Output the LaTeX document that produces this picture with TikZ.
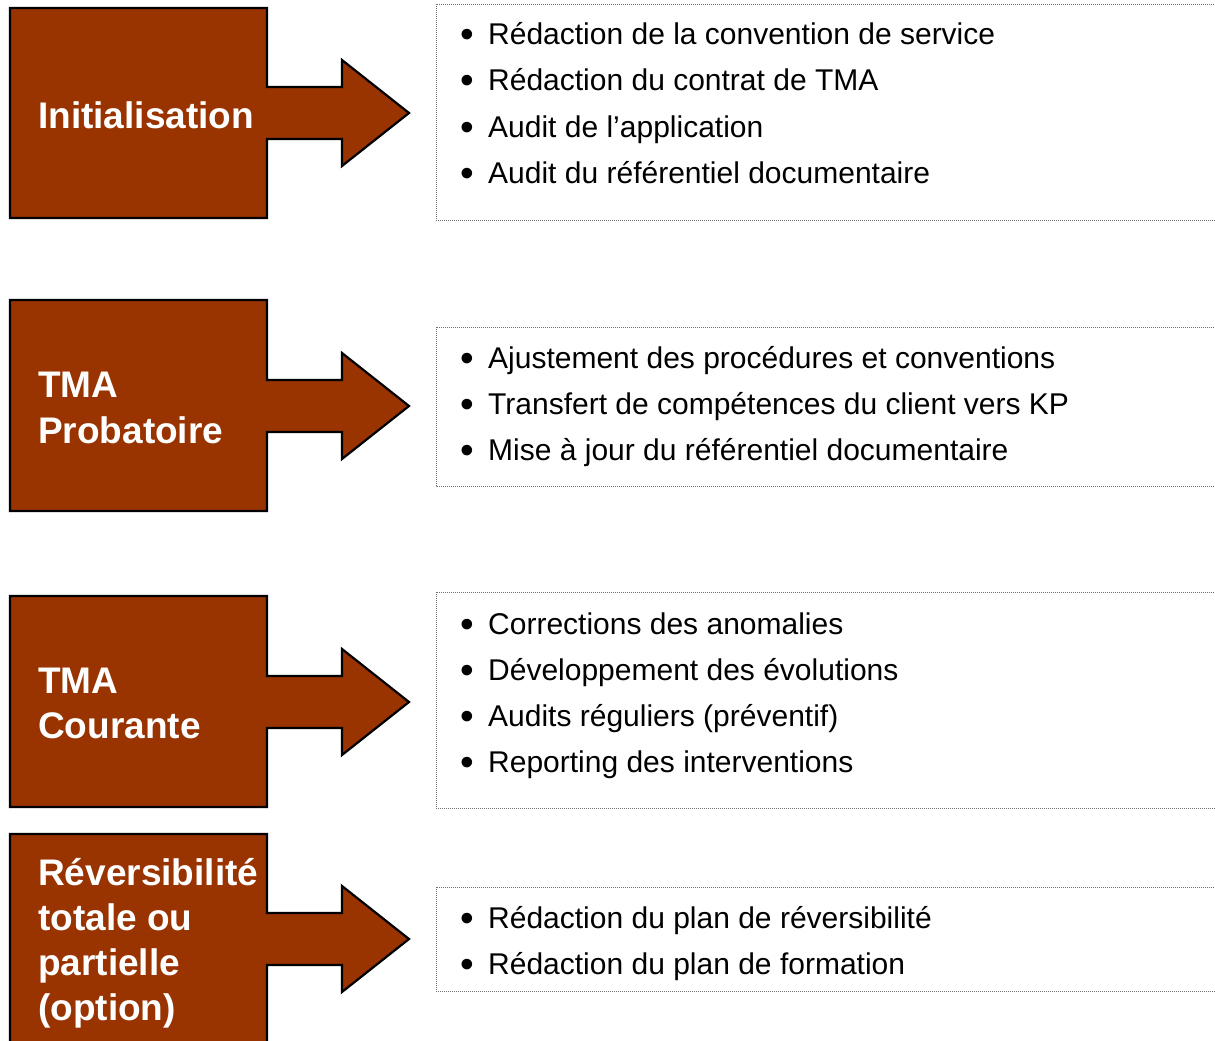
\documentclass[tikz,border=0pt]{standalone}
\usepackage{graphicx}
\usepackage{fontspec}
\setmainfont{Liberation Sans}
\definecolor{phasebrown}{HTML}{993300}
\definecolor{dotgray}{HTML}{707070}
\tikzset{
  phaseshape/.style={fill=phasebrown, draw=black, line width=2.2pt, line join=miter},
  listbox/.style={draw=dotgray, line width=0.8pt, dash pattern=on 1pt off 1pt},
  phasetitle/.style={anchor=base west, inner sep=0pt, text=white, font=\fontsize{37}{46}\selectfont\bfseries},
  bulletline/.style={anchor=base west, inner sep=0pt, text=black, font=\fontsize{30}{46}\selectfont},
}
\newcommand{\bul}[1]{\makebox[26.25pt][l]{\hspace{-1.5pt}\raisebox{-3pt}{\scalebox{1.3}{\textbullet}}}#1}
\begin{document}
\begin{tikzpicture}[x=1pt,y=-1pt]
\useasboundingbox (0,0) rectangle (1215,1041);
\clip (0,0) rectangle (1215,1041);
% phase shapes: box + arrow
\draw[phaseshape] (10,8) -- (267,8) -- (267,87) -- (342,87) -- (342,60) -- (409,113) -- (342,166) -- (342,139) -- (267,139) -- (267,218) -- (10,218) -- cycle;
\draw[phaseshape] (10,300) -- (267,300) -- (267,380) -- (342,380) -- (342,353) -- (409,406) -- (342,459) -- (342,432) -- (267,432) -- (267,511) -- (10,511) -- cycle;
\draw[phaseshape] (10,596) -- (267,596) -- (267,676) -- (342,676) -- (342,649) -- (409,702) -- (342,755) -- (342,728) -- (267,728) -- (267,807) -- (10,807) -- cycle;
\draw[phaseshape] (10,834) -- (267,834) -- (267,913) -- (342,913) -- (342,886) -- (409,939) -- (342,992) -- (342,965) -- (267,965) -- (267,1060) -- (10,1060) -- cycle;
% titles
\node[phasetitle] (t1) at (38,128) {Initialisation};
\node[phasetitle] (t2a) at (38,397) {TMA};
\node[phasetitle] (t2b) at (38,443) {Probatoire};
\node[phasetitle] (t3a) at (38,693) {TMA};
\node[phasetitle] (t3b) at (38,738) {Courante};
\node[phasetitle] (t4a) at (38,885) {Réversibilité};
\node[phasetitle] (t4b) at (38,930) {totale ou};
\node[phasetitle] (t4c) at (38,975) {partielle};
\node[phasetitle] (t4d) at (38,1020) {(option)};
% list boxes
\draw[listbox] (436,4) rectangle (1240,220);
\draw[listbox] (436,327) rectangle (1240,486);
\draw[listbox] (436,592) rectangle (1240,808);
\draw[listbox] (436,887) rectangle (1240,991);
% list 1
\node[bulletline] (l11) at (461.75,44.5) {\bul{Rédaction de la convention de service}};
\node[bulletline] (l12) at (461.75,90.8) {\bul{Rédaction du contrat de TMA}};
\node[bulletline] (l13) at (461.75,137.1) {\bul{Audit de l’application}};
\node[bulletline] (l14) at (461.75,183.4) {\bul{Audit du référentiel documentaire}};
% list 2
\node[bulletline] (l21) at (461.75,368) {\bul{Ajustement des procédures et conventions}};
\node[bulletline] (l22) at (461.75,414.3) {\bul{Transfert de compétences du client vers KP}};
\node[bulletline] (l23) at (461.75,460.6) {\bul{Mise à jour du référentiel documentaire}};
% list 3
\node[bulletline] (l31) at (461.75,634) {\bul{Corrections des anomalies}};
\node[bulletline] (l32) at (461.75,680.3) {\bul{Développement des évolutions}};
\node[bulletline] (l33) at (461.75,726.6) {\bul{Audits réguliers (préventif)}};
\node[bulletline] (l34) at (461.75,772.9) {\bul{Reporting des interventions}};
% list 4
\node[bulletline] (l41) at (461.75,928) {\bul{Rédaction du plan de réversibilité}};
\node[bulletline] (l42) at (461.75,974.3) {\bul{Rédaction du plan de formation}};
\end{tikzpicture}
\end{document}
